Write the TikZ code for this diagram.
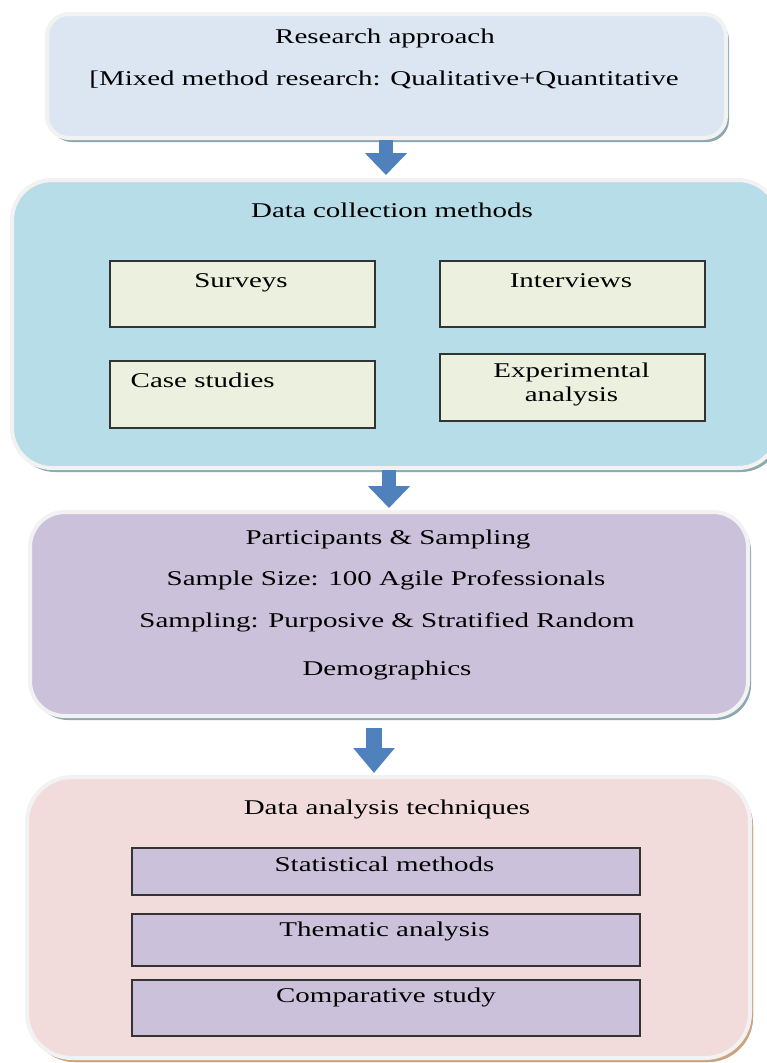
\documentclass[tikz,border=0pt]{standalone}
\usepackage{fontspec}
\setmainfont{Liberation Serif}[FakeStretch=1.38]
\usepackage{xcolor}
\usetikzlibrary{arrows.meta,positioning,shadows}

\definecolor{apprfill}{HTML}{DCE6F2}
\definecolor{collfill}{HTML}{B7DEE8}
\definecolor{methfill}{HTML}{EBF1DE}
\definecolor{partfill}{HTML}{CCC1DA}
\definecolor{analfill}{HTML}{F2DCDB}
\definecolor{arrowblue}{HTML}{4F81BD}
\definecolor{shadeteal}{HTML}{8CA8B0}
\definecolor{shadebrown}{HTML}{CFA27E}

\begin{document}
\begin{tikzpicture}[x=1pt,y=-1pt,
  stage/.style={rectangle,draw=black!5,line width=4pt,
    drop shadow={shadow xshift=3pt,shadow yshift=-4pt,fill=shadeteal,opacity=1}},
  item/.style={rectangle,draw=black!80,line width=1.2pt,inner sep=0pt},
  txt/.style={anchor=base,inner sep=0pt,font=\fontsize{21}{25}\selectfont},
  down/.style={draw=arrowblue,line width=14pt,-{Triangle[width=41pt,length=22pt]}}]
  \clip (0,0) rectangle (767,1063);

  % stages
  \node[stage,fill=apprfill,rounded corners=22pt,minimum width=679pt,minimum height=124pt] (appr) at (386.5,76){};
  \node[stage,fill=collfill,rounded corners=40pt,minimum width=766pt,minimum height=288pt] (coll) at (395,324){};
  \node[stage,fill=partfill,rounded corners=35pt,minimum width=718pt,minimum height=204pt] (part) at (389,614){};
  \node[stage,fill=analfill,rounded corners=45pt,minimum width=723pt,minimum height=281pt,
    drop shadow={shadow xshift=3pt,shadow yshift=-4pt,fill=shadebrown,opacity=1}] (anal) at (388.5,917.5){};

  % research approach
  \node[txt] (apprt) at (385,43){Research approach};
  \node[txt] (apprm) at (384,85){[Mixed method research: Qualitative+Quantitative};

  % data collection
  \node[txt] (collt) at (392,217){Data collection methods};
  \node[item,fill=methfill,minimum width=265pt,minimum height=66pt] (surv) at (242.5,294){};
  \node[item,fill=methfill,minimum width=265pt,minimum height=66pt] (intv) at (572.5,294){};
  \node[item,fill=methfill,minimum width=265pt,minimum height=67pt] (case) at (242.5,394.5){};
  \node[item,fill=methfill,minimum width=265pt,minimum height=67pt] (expt) at (572.5,387.5){};
  \node[txt] (survt) at (241,287){Surveys};
  \node[txt] (intvt) at (571,287){Interviews};
  \node[txt,anchor=base west] (caset) at (130.5,387){Case studies};
  \node[txt] (exptt) at (571.5,377){Experimental};
  \node[txt] (expta) at (571.5,401){analysis};

  % participants
  \node[txt] (partt) at (388,544){Participants \& Sampling};
  \node[txt] (parts) at (386,585.7){Sample Size: 100 Agile Professionals};
  \node[txt] (partm) at (387,627.7){Sampling: Purposive \& Stratified Random};
  \node[txt] (partd) at (387,675){Demographics};

  % data analysis
  \node[txt] (analt) at (387,814){Data analysis techniques};
  \node[item,fill=partfill,minimum width=508pt,minimum height=47pt] (stat) at (386,871.5){};
  \node[item,fill=partfill,minimum width=508pt,minimum height=52pt] (them) at (386,940){};
  \node[item,fill=partfill,minimum width=508pt,minimum height=56pt] (comp) at (386,1008){};
  \node[txt] (statt) at (384.5,871.7){Statistical methods};
  \node[txt] (themt) at (384.5,936.7){Thematic analysis};
  \node[txt] (compt) at (386,1002){Comparative study};

  % arrows
  \draw[down,shorten >=3pt] ([xshift=-0.5pt]appr.south) -- ([xshift=-0.5pt]appr.south |- coll.north);
  \draw[down,shorten >=2pt] ([xshift=-6pt]coll.south) -- ([xshift=-6pt]coll.south |- part.north);
  \draw[down,line width=16pt,shorten <=10pt,shorten >=2pt,-{Triangle[width=40pt,length=25pt]}]
     ([xshift=-15pt]part.south) -- ([xshift=-15pt]part.south |- anal.north);
\end{tikzpicture}
\end{document}
